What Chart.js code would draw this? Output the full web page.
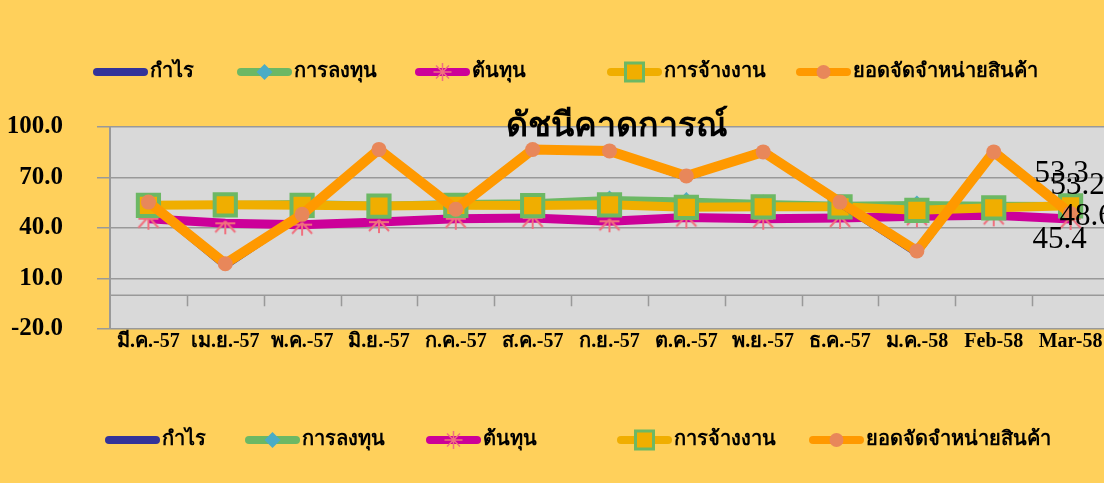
<!DOCTYPE html>
<html>
<head>
<meta charset="utf-8">
<script src="https://cdn.jsdelivr.net/npm/chart.js@4.4.1/dist/chart.umd.min.js"></script>
<style>
    html, body { margin: 0; padding: 0; background: #FFD05B; overflow: hidden; width: 1104px; height: 483px; }
    #indexChart { display: block; background: #FFD05B; }
</style>
</head>
<body>
<!-- the plot runs past the right edge of the window, as in the original -->
<canvas id="indexChart" width="1130" height="483"></canvas>
<script>
/* -------------------------------------------------
    DATA:
    Months, series names and the values.
------------------------------------------------- */
const categories = ['มี.ค.-57', 'เม.ย.-57', 'พ.ค.-57', 'มิ.ย.-57', 'ก.ค.-57', 'ส.ค.-57', 'ก.ย.-57', 'ต.ค.-57', 'พ.ย.-57', 'ธ.ค.-57', 'ม.ค.-58', 'Feb-58', 'Mar-58'];
const seriesNames = ['กำไร', 'การลงทุน', 'ต้นทุน', 'การจ้างงาน', 'ยอดจัดจำหน่ายสินค้า'];

const profit     = [55.0, 17.5, 48.0, 87.0, 50.5, 87.0, 86.0, 70.0, 86.0, 54.5, 25.0, 86.0, 49.0];
const investment = [54.0, 54.0, 54.5, 53.5, 54.5, 55.0, 57.0, 56.0, 54.5, 53.5, 54.0, 53.5, 53.3];
const cost       = [45.5, 42.8, 42.0, 43.5, 45.5, 46.0, 44.0, 46.3, 45.5, 46.0, 47.0, 47.5, 45.4];
const employment = [53.5, 53.8, 53.5, 53.0, 53.5, 53.3, 53.8, 52.3, 52.6, 52.6, 50.5, 52.0, 53.2];
const sales      = [55.4, 18.8, 48.1, 86.7, 51.1, 86.6, 85.8, 70.9, 85.2, 55.4, 26.3, 85.2, 48.6];

const yTicks = [-20, 10, 40, 70, 100];
const chartTitle = 'ดัชนีคาดการณ์';

/* -------------------------------------------------
    FONTS AND COLOURS
------------------------------------------------- */
const SERIF = "'Liberation Serif', 'DejaVu Serif', serif";
const PLOT_BG = '#D9D9D9';
const GRID = '#999999';

// lower half of an asterisk, used as marker for the cost series
function makeHalfStar() {
    const c = document.createElement('canvas');
    c.width = 24; c.height = 24;
    const g = c.getContext('2d');
    g.strokeStyle = '#F0707E';
    g.lineWidth = 2;
    g.beginPath();
    g.moveTo(12, 10); g.lineTo(2, 21);
    g.moveTo(12, 10); g.lineTo(12, 23);
    g.moveTo(12, 10); g.lineTo(22, 21);
    g.moveTo(2, 12); g.lineTo(22, 12);
    g.stroke();
    return c;
}

/* -------------------------------------------------
    PLUGIN: plot background, zero line with tick marks, title
------------------------------------------------- */
const plotDecor = {
    id: 'plotDecor',
    beforeDraw(chart) {
        const { ctx, chartArea: a } = chart;
        ctx.save();
        ctx.fillStyle = PLOT_BG;
        ctx.fillRect(a.left, a.top, a.right - a.left, a.bottom - a.top);
        ctx.restore();
    },
    beforeDatasetsDraw(chart) {
        const { ctx, chartArea: a, scales } = chart;
        const y0 = scales.y.getPixelForValue(0);
        ctx.save();
        ctx.strokeStyle = GRID;
        ctx.lineWidth = 1.5;
        ctx.beginPath();
        ctx.moveTo(a.left, y0);
        ctx.lineTo(a.right, y0);
        const step = (a.right - a.left) / categories.length;
        for (let i = 1; i < categories.length; i++) {
            const x = Math.round(a.left + step * i) + 0.5;
            ctx.moveTo(x, y0);
            ctx.lineTo(x, y0 + 11);
        }
        ctx.stroke();
        ctx.restore();
    },
    afterDraw(chart) {
        const ctx = chart.ctx;
        ctx.save();
        ctx.fillStyle = '#000';
        ctx.font = 'bold 34px ' + SERIF;
        ctx.textAlign = 'center';
        ctx.textBaseline = 'middle';
        ctx.fillText(chartTitle, 617, 127);
        ctx.restore();
    }
};

/* -------------------------------------------------
    PLUGIN: value labels on the last month
------------------------------------------------- */
const lastLabels = {
    id: 'lastLabels',
    afterDatasetsDraw(chart) {
        const ctx = chart.ctx;
        // dataset index -> offset of the text from its point
        const spots = [
            { ds: 1, dx: -36, dy: -32 },
            { ds: 3, dx: -20, dy: -20 },
            { ds: 4, dx: -11, dy: 3 },
            { ds: 2, dx: -38, dy: 21 }
        ];
        ctx.save();
        ctx.fillStyle = '#000';
        ctx.font = '31px ' + SERIF;
        ctx.textAlign = 'left';
        ctx.textBaseline = 'middle';
        spots.forEach(s => {
            const meta = chart.getDatasetMeta(s.ds);
            const last = meta.data.length - 1;
            const pt = meta.data[last];
            const v = chart.data.datasets[s.ds].data[last];
            ctx.fillText(v.toFixed(1), pt.x + s.dx, pt.y + s.dy);
        });
        ctx.restore();
    }
};

/* -------------------------------------------------
    PLUGIN: two legends (top and bottom), line + marker
------------------------------------------------- */
const twinLegend = {
    id: 'twinLegend',
    afterDraw(chart) {
        const ctx = chart.ctx;
        const rows = [
            { y: 72, starts: [93, 237, 415, 607, 796] },
            { y: 440, starts: [105, 245, 426, 617, 809] }
        ];
        const len = 55;
        ctx.save();
        rows.forEach(row => {
            chart.data.datasets.forEach((ds, i) => {
                const x1 = row.starts[i], x2 = x1 + len, y = row.y, xm = (x1 + x2) / 2;
                ctx.strokeStyle = ds.borderColor;
                ctx.lineWidth = 8;
                ctx.lineCap = 'round';
                ctx.beginPath();
                ctx.moveTo(x1 + 4, y);
                ctx.lineTo(x2 - 4, y);
                ctx.stroke();
                ctx.lineCap = 'butt';
                if (i === 1) {
                    ctx.fillStyle = ds.pointBackgroundColor;
                    ctx.beginPath();
                    ctx.moveTo(xm, y - 8); ctx.lineTo(xm + 8, y);
                    ctx.lineTo(xm, y + 8); ctx.lineTo(xm - 8, y);
                    ctx.closePath(); ctx.fill();
                } else if (i === 2) {
                    ctx.strokeStyle = '#F0707E';
                    ctx.lineWidth = 1.5;
                    ctx.beginPath();
                    [[0, 9], [9, 0], [6.5, 6.5], [6.5, -6.5]].forEach(([a, b]) => {
                        ctx.moveTo(xm - a, y - b); ctx.lineTo(xm + a, y + b);
                    });
                    ctx.stroke();
                } else if (i === 3) {
                    ctx.fillStyle = ds.pointBackgroundColor;
                    ctx.strokeStyle = ds.pointBorderColor;
                    ctx.lineWidth = 3;
                    ctx.fillRect(xm - 9, y - 9, 18, 18);
                    ctx.strokeRect(xm - 9, y - 9, 18, 18);
                } else if (i === 4) {
                    ctx.fillStyle = ds.pointBackgroundColor;
                    ctx.beginPath();
                    ctx.arc(xm, y, 7, 0, Math.PI * 2);
                    ctx.fill();
                }
                ctx.fillStyle = '#000';
                ctx.font = 'bold 20px ' + SERIF;
                ctx.textAlign = 'left';
                ctx.textBaseline = 'middle';
                ctx.fillText(ds.label, x2 + 2, y);
            });
        });
        ctx.restore();
    }
};

/* -------------------------------------------------
    THE CHART
------------------------------------------------- */
document.addEventListener('DOMContentLoaded', () => {
    const ctx = document.getElementById('indexChart').getContext('2d');
    new Chart(ctx, {
        type: 'line',
        data: {
            labels: categories,
            datasets: [
                {
                    label: seriesNames[0], data: profit, order: 2,
                    borderColor: '#333399', borderWidth: 7,
                    pointRadius: 0, tension: 0
                },
                {
                    label: seriesNames[1], data: investment, order: 5,
                    borderColor: '#6CB864', borderWidth: 7,
                    pointStyle: 'rectRot', pointRadius: 9,
                    pointBackgroundColor: '#4BACC6', pointBorderColor: '#4BACC6', pointBorderWidth: 0
                },
                {
                    label: seriesNames[2], data: cost, order: 4,
                    borderColor: '#CC0099', borderWidth: 9,
                    pointStyle: makeHalfStar(), pointRadius: 12
                },
                {
                    label: seriesNames[3], data: employment, order: 3,
                    borderColor: '#F0AE00', borderWidth: 9,
                    pointStyle: 'rect', pointRadius: 15,
                    pointBackgroundColor: '#F0AE00', pointBorderColor: '#6CB864', pointBorderWidth: 4
                },
                {
                    label: seriesNames[4], data: sales, order: 1,
                    borderColor: '#FF9900', borderWidth: 10,
                    pointStyle: 'circle', pointRadius: 7.5,
                    pointBackgroundColor: '#E8875A', pointBorderColor: '#E8875A', pointBorderWidth: 0
                }
            ]
        },
        options: {
            responsive: false,
            animation: false,
            layout: { padding: { left: 0, top: 127, right: 19, bottom: 114 } },
            plugins: {
                legend: { display: false },
                title: { display: false },
                tooltip: { enabled: false }
            },
            scales: {
                x: {
                    offset: true,
                    grid: { display: false },
                    border: { display: false },
                    ticks: {
                        color: '#000', padding: -7, maxRotation: 0, autoSkip: false,
                        font: { family: SERIF, size: 20, weight: 'bold' }
                    },
                    afterFit: s => { s.height = 40; }
                },
                y: {
                    min: -20, max: 100,
                    afterBuildTicks: s => { s.ticks = yTicks.map(v => ({ value: v })); },
                    ticks: {
                        color: '#000', padding: 34,
                        font: { family: SERIF, size: 25, weight: 'bold' },
                        callback: v => v.toFixed(1)
                    },
                    grid: { color: GRID, lineWidth: 1.5, tickLength: 13 },
                    border: { color: GRID, width: 2 },
                    afterFit: s => { s.width = 110; }
                }
            }
        },
        plugins: [plotDecor, lastLabels, twinLegend]
    });
});
</script>
</body>
</html>
